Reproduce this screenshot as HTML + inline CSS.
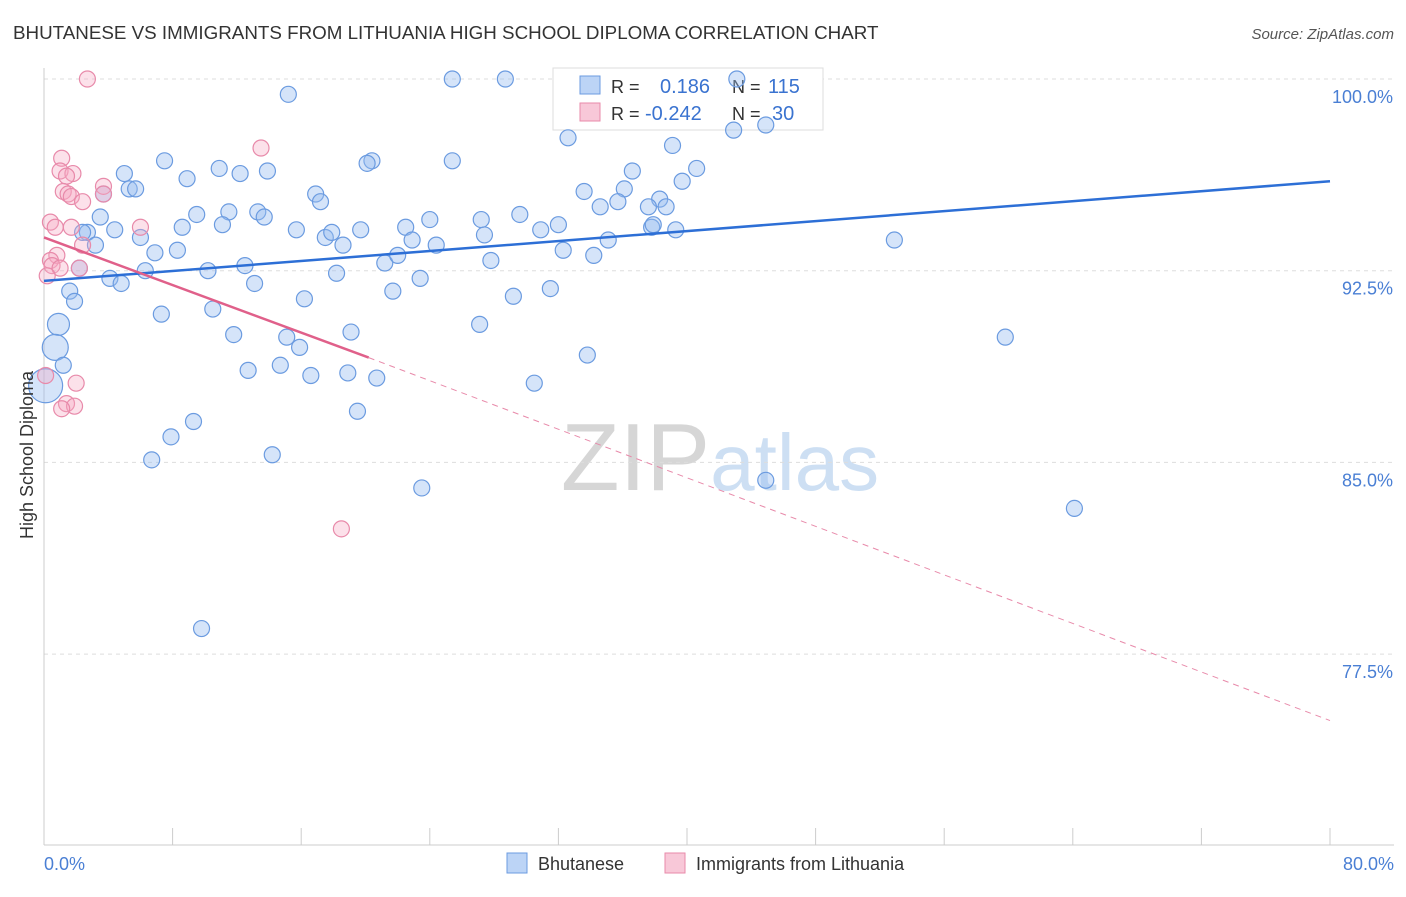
<!DOCTYPE html>
<html><head><meta charset="utf-8"><style>
body{margin:0;background:#fff;font-family:"Liberation Sans",sans-serif;}
svg text{font-family:"Liberation Sans",sans-serif;}
</style></head><body>
<svg id="chart" width="1406" height="892" xmlns="http://www.w3.org/2000/svg">
<text x="13" y="39" font-size="18.8" fill="#333">BHUTANESE VS IMMIGRANTS FROM LITHUANIA HIGH SCHOOL DIPLOMA CORRELATION CHART</text>
<text x="1394" y="39" font-size="15" fill="#555" text-anchor="end" font-style="italic">Source: ZipAtlas.com</text>
<text x="720" y="490" font-size="96" fill="#ddd" text-anchor="middle" font-family="Liberation Serif"><tspan fill="#d6d6d6">ZIP</tspan><tspan fill="#cddff3" font-family="Liberation Sans" font-size="80">atlas</tspan></text>
<g id="grid"></g>
<g id="axes"></g>
<g>
<rect x="553" y="68" width="270" height="62" fill="#fff" stroke="#ddd"/>
<rect x="580" y="76" width="20" height="18" fill="#bcd4f6" stroke="#6b9be0"/>
<rect x="580" y="103" width="20" height="18" fill="#f8c8d8" stroke="#e88aaa"/>
<text x="611" y="93" font-size="18" fill="#333">R =</text>
<text x="660" y="93" font-size="20" fill="#3a73d0">0.186</text>
<text x="732" y="93" font-size="18" fill="#333">N =</text>
<text x="768" y="93" font-size="20" fill="#3a73d0">115</text>
<text x="611" y="120" font-size="18" fill="#333">R =</text>
<text x="645" y="120" font-size="20" fill="#3a73d0">-0.242</text>
<text x="732" y="120" font-size="18" fill="#333">N =</text>
<text x="772" y="120" font-size="20" fill="#3a73d0">30</text>
</g>
<g id="marks"></g>
<g id="lines"></g>
<text transform="translate(33,455) rotate(-90)" font-size="18" fill="#333" text-anchor="middle">High School Diploma</text>
<text x="44" y="870" font-size="18" fill="#4a7fd4">0.0%</text>
<text x="1394" y="870" font-size="18" fill="#4a7fd4" text-anchor="end">80.0%</text>
<g>
<rect x="507" y="853" width="20" height="20" fill="#bcd4f6" stroke="#6b9be0"/>
<text x="538" y="870" font-size="18" fill="#333">Bhutanese</text>
<rect x="665" y="853" width="20" height="20" fill="#f8c8d8" stroke="#e88aaa"/>
<text x="696" y="870" font-size="18" fill="#333">Immigrants from Lithuania</text>
</g>
</svg>
<script>
const yTicks=[100,92.5,85,77.5];
const yTickLabels=["100.0%","92.5%","85.0%","77.5%"];
const xTicks=[0,8,16,24,32,40,48,56,64,72,80];
const blueX=[15.2,25.4,28.7,43.1,44.9,42.9,32.6,39.1,7.5,20.4,20.1,25.4,5.0,8.9,10.9,12.2,13.9,36.6,40.6,39.7,5.3,5.7,3.7,33.6,36.1,16.9,17.2,38.3,34.6,35.7,37.6,38.7,3.5,9.5,11.5,13.3,13.7,24.0,27.2,29.6,32.0,2.7,4.4,2.4,6.0,8.6,11.1,15.7,17.5,17.9,19.7,22.5,27.4,30.9,37.8,39.3,37.9,3.2,8.3,6.9,18.6,22.9,24.4,32.3,35.1,52.9,2.2,6.3,10.2,12.5,18.2,21.2,22.0,27.8,34.2,4.1,4.8,13.1,23.4,21.7,1.6,1.9,16.2,29.2,31.5,7.3,10.5,27.1,11.8,15.1,19.1,59.8,15.9,1.2,33.8,12.7,14.7,16.6,18.9,20.7,30.5,19.5,9.3,7.9,6.7,14.2,23.5,44.9,64.1,9.8];
const blueY=[99.4,100,100,100,98.2,98.0,97.7,97.4,96.8,96.8,96.7,96.8,96.3,96.1,96.5,96.3,96.4,96.4,96.5,96.0,95.7,95.7,95.5,95.6,95.7,95.5,95.2,95.3,95.0,95.2,95.0,95.0,94.6,94.7,94.8,94.8,94.6,94.5,94.5,94.7,94.3,94.0,94.1,94.0,93.8,94.2,94.3,94.1,93.8,94.0,94.1,94.2,93.9,94.1,94.2,94.1,94.3,93.5,93.3,93.2,93.5,93.7,93.5,93.3,93.7,93.7,92.6,92.5,92.5,92.7,92.4,92.8,93.1,92.9,93.1,92.2,92.0,92.0,92.2,91.7,91.7,91.3,91.4,91.5,91.8,90.8,91.0,90.4,90.0,89.9,90.1,89.9,89.5,88.8,89.2,88.6,88.8,88.4,88.5,88.3,88.1,87.0,86.6,86.0,85.1,85.3,84.0,84.3,83.2,78.5];
const bigX=[0.9,0.7,0.1];
const bigY=[90.4,89.5,88.0];
const bigR=[11,13,17];
const pinkX=[2.7,13.5,1.1,1.0,1.8,1.4,3.7,1.2,1.5,1.7,3.7,2.4,0.4,0.7,1.7,6.0,2.4,0.8,0.4,0.5,1.0,2.2,0.2,2.0,0.1,1.4,1.9,18.5,1.1];
const pinkY=[100,97.3,96.9,96.4,96.3,96.2,95.8,95.6,95.5,95.4,95.5,95.2,94.4,94.2,94.2,94.2,93.5,93.1,92.9,92.7,92.6,92.6,92.3,88.1,88.4,87.3,87.2,82.4,87.1];
const blueLine=[0,92.1,80,96.0];
const pinkLine=[0,93.8,20.2,89.1,80,74.9];
const X=v=>44+v*16.075, Y=v=>79+(100-v)*25.56;
const ns="http://www.w3.org/2000/svg";
function mk(t,a,p){const e=document.createElementNS(ns,t);for(const k in a)e.setAttribute(k,a[k]);document.getElementById(p).appendChild(e);return e;}
yTicks.forEach((t,i)=>{
 const g=mk('line',{x1:44,x2:1394,y1:Y(t),y2:Y(t),stroke:'#ddd','stroke-dasharray':'4,4'},'grid');
 
 
 const l=mk('text',{x:1393,y:Y(t)+24,'font-size':18,fill:'#4a7fd4','text-anchor':'end'},'grid');
 
 
 l.textContent=yTickLabels[i];
});
const ax=mk('line',{x1:44,x2:1394,y1:845,y2:845,stroke:'#ccc'},'axes');


const ay=mk('line',{x1:44,x2:44,y1:68,y2:845,stroke:'#ccc'},'axes');


xTicks.forEach(t=>{const e=mk('line',{x1:X(t),x2:X(t),y1:828,y2:845,stroke:'#ccc'},'axes');
 
 });
bigX.forEach((v,i)=>{const c=mk('circle',{cx:X(v),cy:Y(bigY[i]),r:bigR[i],fill:'rgba(150,188,240,0.4)',stroke:'#6b9be0','stroke-width':1.2},'marks');
 
 });
blueX.forEach((v,i)=>{const c=mk('circle',{cx:X(v),cy:Y(blueY[i]),r:8,fill:'rgba(150,188,240,0.4)',stroke:'#6b9be0','stroke-width':1.2},'marks');
 
 });
pinkX.forEach((v,i)=>{const c=mk('circle',{cx:X(v),cy:Y(pinkY[i]),r:8,fill:'rgba(245,170,195,0.35)',stroke:'#e88aaa','stroke-width':1.2},'marks');
 
 });
const bl=mk('line',{x1:X(blueLine[0]),y1:Y(blueLine[1]),x2:X(blueLine[2]),y2:Y(blueLine[3]),stroke:'#2d6fd6','stroke-width':2.5},'lines');


const pl=mk('line',{x1:X(pinkLine[0]),y1:Y(pinkLine[1]),x2:X(pinkLine[2]),y2:Y(pinkLine[3]),stroke:'#e0608a','stroke-width':2.5},'lines');


const pd=mk('line',{x1:X(pinkLine[2]),y1:Y(pinkLine[3]),x2:X(pinkLine[4]),y2:Y(pinkLine[5]),stroke:'#e88aaa','stroke-width':1,'stroke-dasharray':'6,5'},'lines');


</script>
</body></html>
